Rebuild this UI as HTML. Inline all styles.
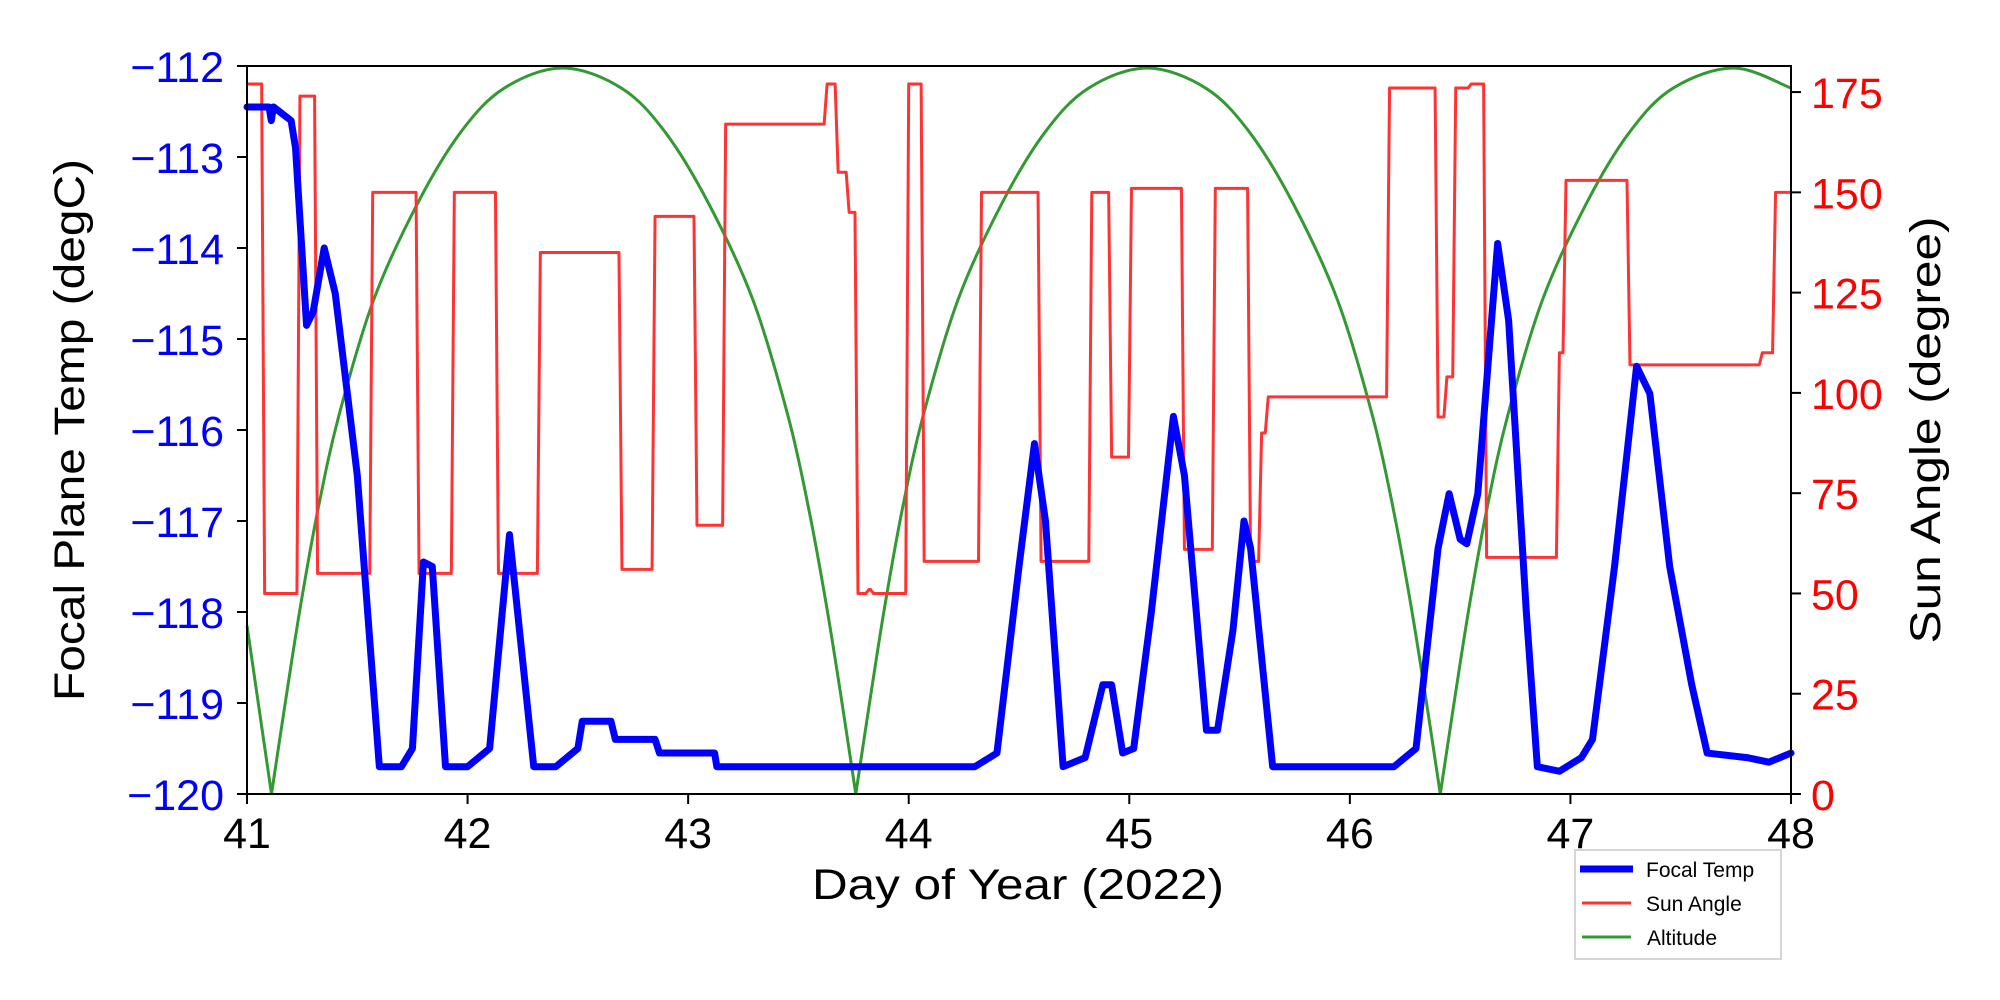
<!DOCTYPE html>
<html><head><meta charset="utf-8"><style>
html,body{margin:0;padding:0;background:#fff;}
svg{display:block;font-family:"Liberation Sans","DejaVu Sans",sans-serif;}
</style></head><body>
<svg id="chart" width="2000" height="1000" viewBox="0 0 2000 1000" xmlns="http://www.w3.org/2000/svg">
<rect x="0" y="0" width="2000" height="1000" fill="#fff"/>
<g id="plot"></g>
<g id="axes"></g>
<g id="legend">
  <rect x="1575" y="850" width="206" height="109" fill="#fff" stroke="#d6d6d6" stroke-width="2"/>
  <line x1="1580" y1="869" x2="1633" y2="869" stroke="#0000ff" stroke-width="7"/>
  <text x="1646" y="877" font-size="21">Focal Temp</text>
  <line x1="1582" y1="903" x2="1631" y2="903" stroke="#ff3333" stroke-width="3"/>
  <text x="1646" y="911" font-size="21">Sun Angle</text>
  <line x1="1582" y1="937" x2="1631" y2="937" stroke="#339933" stroke-width="3"/>
  <text x="1647" y="945" font-size="21">Altitude</text>
</g>
</svg>
<script>
const xTicks=[41,42,43,44,45,46,47,48];
const leftTicks=[-112,-113,-114,-115,-116,-117,-118,-119,-120];
const rightTicks=[0,25,50,75,100,125,150,175];
const tempT=[41.0,41.1,41.11,41.12,41.2,41.22,41.27,41.3,41.35,41.4,41.5,41.6,41.7,41.75,41.8,41.84,41.9,42.0,42.1,42.19,42.3,42.4,42.5,42.52,42.65,42.67,42.85,42.87,43.12,43.13,44.3,44.4,44.5,44.57,44.62,44.7,44.8,44.88,44.92,44.97,45.02,45.1,45.2,45.25,45.35,45.4,45.47,45.52,45.55,45.65,46.2,46.3,46.4,46.45,46.5,46.53,46.58,46.67,46.72,46.8,46.85,46.95,47.05,47.1,47.2,47.3,47.36,47.45,47.55,47.62,47.8,47.9,48.0];
const tempV=[-112.45,-112.45,-112.6,-112.45,-112.6,-112.9,-114.85,-114.7,-114.0,-114.5,-116.5,-119.7,-119.7,-119.5,-117.45,-117.5,-119.7,-119.7,-119.5,-117.15,-119.7,-119.7,-119.5,-119.2,-119.2,-119.4,-119.4,-119.55,-119.55,-119.7,-119.7,-119.55,-117.5,-116.15,-117.0,-119.7,-119.6,-118.8,-118.8,-119.55,-119.5,-118.0,-115.85,-116.5,-119.3,-119.3,-118.2,-117.0,-117.3,-119.7,-119.7,-119.5,-117.3,-116.7,-117.2,-117.25,-116.7,-113.95,-114.8,-118.0,-119.7,-119.75,-119.6,-119.4,-117.5,-115.3,-115.6,-117.5,-118.8,-119.55,-119.6,-119.65,-119.55];
const sunT=[41.0,41.08,41.24,41.32,41.57,41.78,41.94,42.14,42.33,42.7,42.85,43.04,43.17,43.63,43.68,43.73,43.77,43.82,43.84,44.0,44.07,44.33,44.6,44.83,44.92,45.01,45.25,45.39,45.55,45.6,45.63,46.18,46.4,46.44,46.48,46.55,46.62,46.95,46.98,47.27,47.87,47.93,48.0];
const sunV=[177,50,174,55,150,55,150,55,135,56,144,67,167,177,155,145,50,51,50,177,58,150,58,150,84,151,61,151,58,90,99,176,94,104,176,177,59,110,153,107,110,150,150];
const altT=[41.0,41.111,41.177,41.243,41.322,41.415,41.573,41.771,41.969,42.167,42.431,42.697,42.896,43.095,43.295,43.454,43.547,43.627,43.694,43.76,43.826,43.892,43.971,44.064,44.222,44.42,44.618,44.816,45.08,45.346,45.545,45.745,45.945,46.104,46.197,46.277,46.344,46.41,46.476,46.542,46.621,46.714,46.872,47.07,47.268,47.466,47.74,48.0];
const altV=[42,0,24,47,71,94,123,147,165,176,181,176,165,147,123,94,71,47,24,0,24,47,71,94,123,147,165,176,181,176,165,147,123,94,71,47,24,0,24,47,71,94,123,147,165,176,181,176];

const X0=247,X1=1791,Y0=66,Y1=794;
const xs=d=>X0+(d-41)/(48-41)*(X1-X0);
const yl=v=>Y0+(-112-v)/8*(Y1-Y0);
const RMAX=181.5;
const yr=v=>Y1-v/RMAX*(Y1-Y0);
const NS="http://www.w3.org/2000/svg";
const plot=document.getElementById('plot'),axes=document.getElementById('axes');
function mk(tag,attrs,parent){const e=document.createElementNS(NS,tag);for(const k in attrs)e.setAttribute(k,attrs[k]);parent.appendChild(e);return e;}

let pts=altT.map((t,i)=>[xs(t),yr(altV[i])]);
let d='M'+pts[0][0]+','+pts[0][1];
for(let i=0;i<pts.length-1;i++){
  const p1=pts[i],p2=pts[i+1];
  const p0=(i>0&&altV[i]!==0)?pts[i-1]:p1;
  const p3=(i+2<pts.length&&altV[i+1]!==0)?pts[i+2]:p2;
  const c1=[p1[0]+(p2[0]-p0[0])/6,p1[1]+(p2[1]-p0[1])/6];
  const c2=[p2[0]-(p3[0]-p1[0])/6,p2[1]-(p3[1]-p1[1])/6];
  d+=` C${c1[0]},${c1[1]} ${c2[0]},${c2[1]} ${p2[0]},${p2[1]}`;
}
const alt=mk('path',{d:d,fill:'none',stroke:'#339933','stroke-width':3},plot);



let sp='';
for(let i=0;i<sunT.length;i++){
  const x=xs(sunT[i]),y=yr(sunV[i]);
  if(i===0)sp+=`M${x},${y}`;else{sp+=` L${x-3},${yr(sunV[i-1])} L${x},${y}`;}
}
sp+=` L${xs(48)},${yr(sunV[sunV.length-1])}`;
const sun=mk('path',{d:sp,fill:'none',stroke:'#ff3333','stroke-width':3,'stroke-linejoin':'round'},plot);



const tp=tempT.map((t,i)=>xs(t)+','+yl(tempV[i])).join(' ');
const ft=mk('polyline',{points:tp,fill:'none',stroke:'#0000ff','stroke-width':7,'stroke-linejoin':'round','stroke-linecap':'round'},plot);



const fr=mk('rect',{x:X0,y:Y0,width:X1-X0,height:Y1-Y0,fill:'none',stroke:'#000','stroke-width':2},axes);



xTicks.forEach(v=>{
  const x=xs(v);
  const l=mk('line',{x1:x,y1:Y1,x2:x,y2:Y1+10,stroke:'#000','stroke-width':2},axes);
  
  
  const t=mk('text',{x:x,y:848,'font-size':43,'text-anchor':'middle',fill:'#000'},axes);
  t.textContent=v;
  
  
});
leftTicks.forEach(v=>{
  const y=yl(v);
  const l=mk('line',{x1:X0-10,y1:y,x2:X0,y2:y,stroke:'#000','stroke-width':2},axes);
  
  
  const t=mk('text',{x:224,y:y+16,'font-size':43,'text-anchor':'end',fill:'#0000ff'},axes);
  t.textContent='\u2212'+Math.abs(v);
  
  
});
rightTicks.forEach(v=>{
  const y=yr(v);
  const l=mk('line',{x1:X1,y1:y,x2:X1+10,y2:y,stroke:'#000','stroke-width':2},axes);
  
  
  const t=mk('text',{x:1811,y:y+16,'font-size':43,'text-anchor':'start',fill:'#ff0000'},axes);
  t.textContent=v;
  
  
});
const xl=mk('text',{x:1018,y:899,'font-size':43,'text-anchor':'middle',textLength:412,lengthAdjust:'spacingAndGlyphs',fill:'#000'},axes);
xl.textContent='Day of Year (2022)';


const ylT=mk('text',{x:0,y:0,'font-size':43,'text-anchor':'middle',textLength:542,lengthAdjust:'spacingAndGlyphs',fill:'#000',transform:'translate(84,430) rotate(-90)'},axes);
ylT.textContent='Focal Plane Temp (degC)';


const yrT=mk('text',{x:0,y:0,'font-size':43,'text-anchor':'middle',textLength:427,lengthAdjust:'spacingAndGlyphs',fill:'#000',transform:'translate(1940,430) rotate(-90)'},axes);
yrT.textContent='Sun Angle (degree)';


</script>
</body></html>
